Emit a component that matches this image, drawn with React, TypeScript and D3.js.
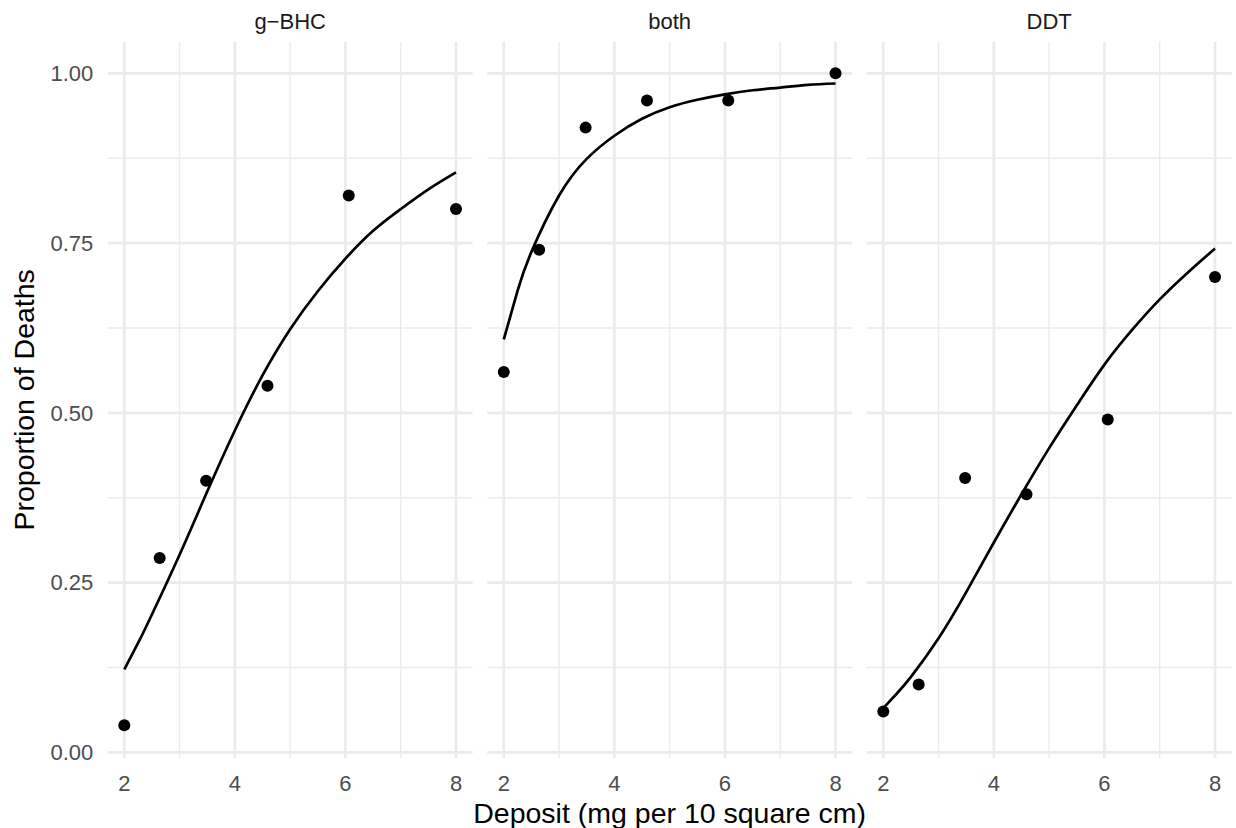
import React from 'react';
import * as d3 from 'd3';

// observed proportions of deaths at each deposit level
const deposit = [2.0, 2.64, 3.48, 4.59, 6.06, 8.0];
const insecticides = ['g\u2212BHC', 'both', 'DDT'];
const propGBHC = [0.04, 0.286, 0.4, 0.54, 0.82, 0.8];
const propBoth = [0.56, 0.74, 0.92, 0.96, 0.96, 1.0];
const propDDT = [0.06, 0.1, 0.404, 0.38, 0.49, 0.7];

// fitted curve
const fitX = [2, 2.25, 2.5, 3, 3.5, 4, 4.5, 5, 5.5, 6, 6.5, 7, 7.5, 8];
const fitGBHC = [0.122, 0.161, 0.203, 0.291, 0.384, 0.474, 0.555, 0.623, 0.679, 0.727, 0.768, 0.8, 0.829, 0.854];
const fitBoth = [0.608, 0.68, 0.737, 0.82, 0.874, 0.908, 0.933, 0.95, 0.961, 0.969, 0.975, 0.979, 0.983, 0.985];
const fitDDT = [0.065, 0.087, 0.111, 0.168, 0.236, 0.309, 0.38, 0.448, 0.511, 0.571, 0.622, 0.667, 0.706, 0.742];

const xTicks = [2, 4, 6, 8];
const xMinor = [3, 5, 7];
const yTicks = [0, 0.25, 0.5, 0.75, 1.0];
const yMinor = [0.125, 0.375, 0.625, 0.875];

const points = [propGBHC, propBoth, propDDT];
const fits = [fitGBHC, fitBoth, fitDDT];

const font = '"Liberation Sans", Arial, Helvetica, sans-serif';

function App() {
  const width = 1236;
  const height = 828;
  const panelTop = 41.7;
  const panelBottom = 758;
  const firstLeft = 107.7;
  const panelW = 364.9;
  const gap = 14.6;

  const yScale = d3.scaleLinear()
    .domain([0, 1])
    .range([752.3, 73.3]);

  const panels = insecticides.map((name, i) => {
    const left = firstLeft + i * (panelW + gap);
    const xScale = d3.scaleLinear()
      .domain([1.7, 8.3])
      .range([left, left + panelW]);
    return { name, i, left, xScale };
  });

  return (
    <svg width={width} height={height} style={{ position: 'absolute', left: 0, top: 0 }} fontFamily={font}>
      <rect width={width} height={height} fill="white" />
      {panels.map(({ name, i, left, xScale }) => {
        const line = d3.line<number>()
          .x((d, k) => xScale(fitX[k]))
          .y(d => yScale(d))
          .curve(d3.curveNatural);
        return (
          <g key={name}>
            {yMinor.map(v => (
              <line key={'ym' + v} x1={left} x2={left + panelW} y1={yScale(v)} y2={yScale(v)} stroke="#EBEBEB" strokeWidth={1.4} />
            ))}
            {xMinor.map(v => (
              <line key={'xm' + v} x1={xScale(v)} x2={xScale(v)} y1={panelTop} y2={panelBottom} stroke="#EBEBEB" strokeWidth={1.4} />
            ))}
            {yTicks.map(v => (
              <line key={'y' + v} x1={left} x2={left + panelW} y1={yScale(v)} y2={yScale(v)} stroke="#EBEBEB" strokeWidth={2.7} />
            ))}
            {xTicks.map(v => (
              <line key={'x' + v} x1={xScale(v)} x2={xScale(v)} y1={panelTop} y2={panelBottom} stroke="#EBEBEB" strokeWidth={2.7} />
            ))}
            <path d={line(fits[i]) || ''} fill="none" stroke="black" strokeWidth={2.7} />
            {points[i].map((p, k) => (
              <circle key={k} cx={xScale(deposit[k])} cy={yScale(p)} r={6} fill="black" />
            ))}
            <text x={left + panelW / 2} y={28.5} textAnchor="middle" fontSize={22} fill="#1A1A1A">{name}</text>
            {xTicks.map(v => (
              <text key={'xt' + v} x={xScale(v)} y={790.7} textAnchor="middle" fontSize={22} fill="#4D4D4D">{v}</text>
            ))}
          </g>
        );
      })}
      {yTicks.map(v => (
        <text key={'yt' + v} x={93.3} y={yScale(v)} dy="0.36em" textAnchor="end" fontSize={22} fill="#4D4D4D">{v.toFixed(2)}</text>
      ))}
      <text x={(firstLeft + firstLeft + 3 * panelW + 2 * gap) / 2} y={822.5} textAnchor="middle" fontSize={28.5} fill="black">
        Deposit (mg per 10 square cm)
      </text>
      <text transform={`translate(33.5, ${(panelTop + panelBottom) / 2}) rotate(-90)`} textAnchor="middle" fontSize={28.5} fill="black">
        Proportion of Deaths
      </text>
    </svg>
  );
}

export default App;
